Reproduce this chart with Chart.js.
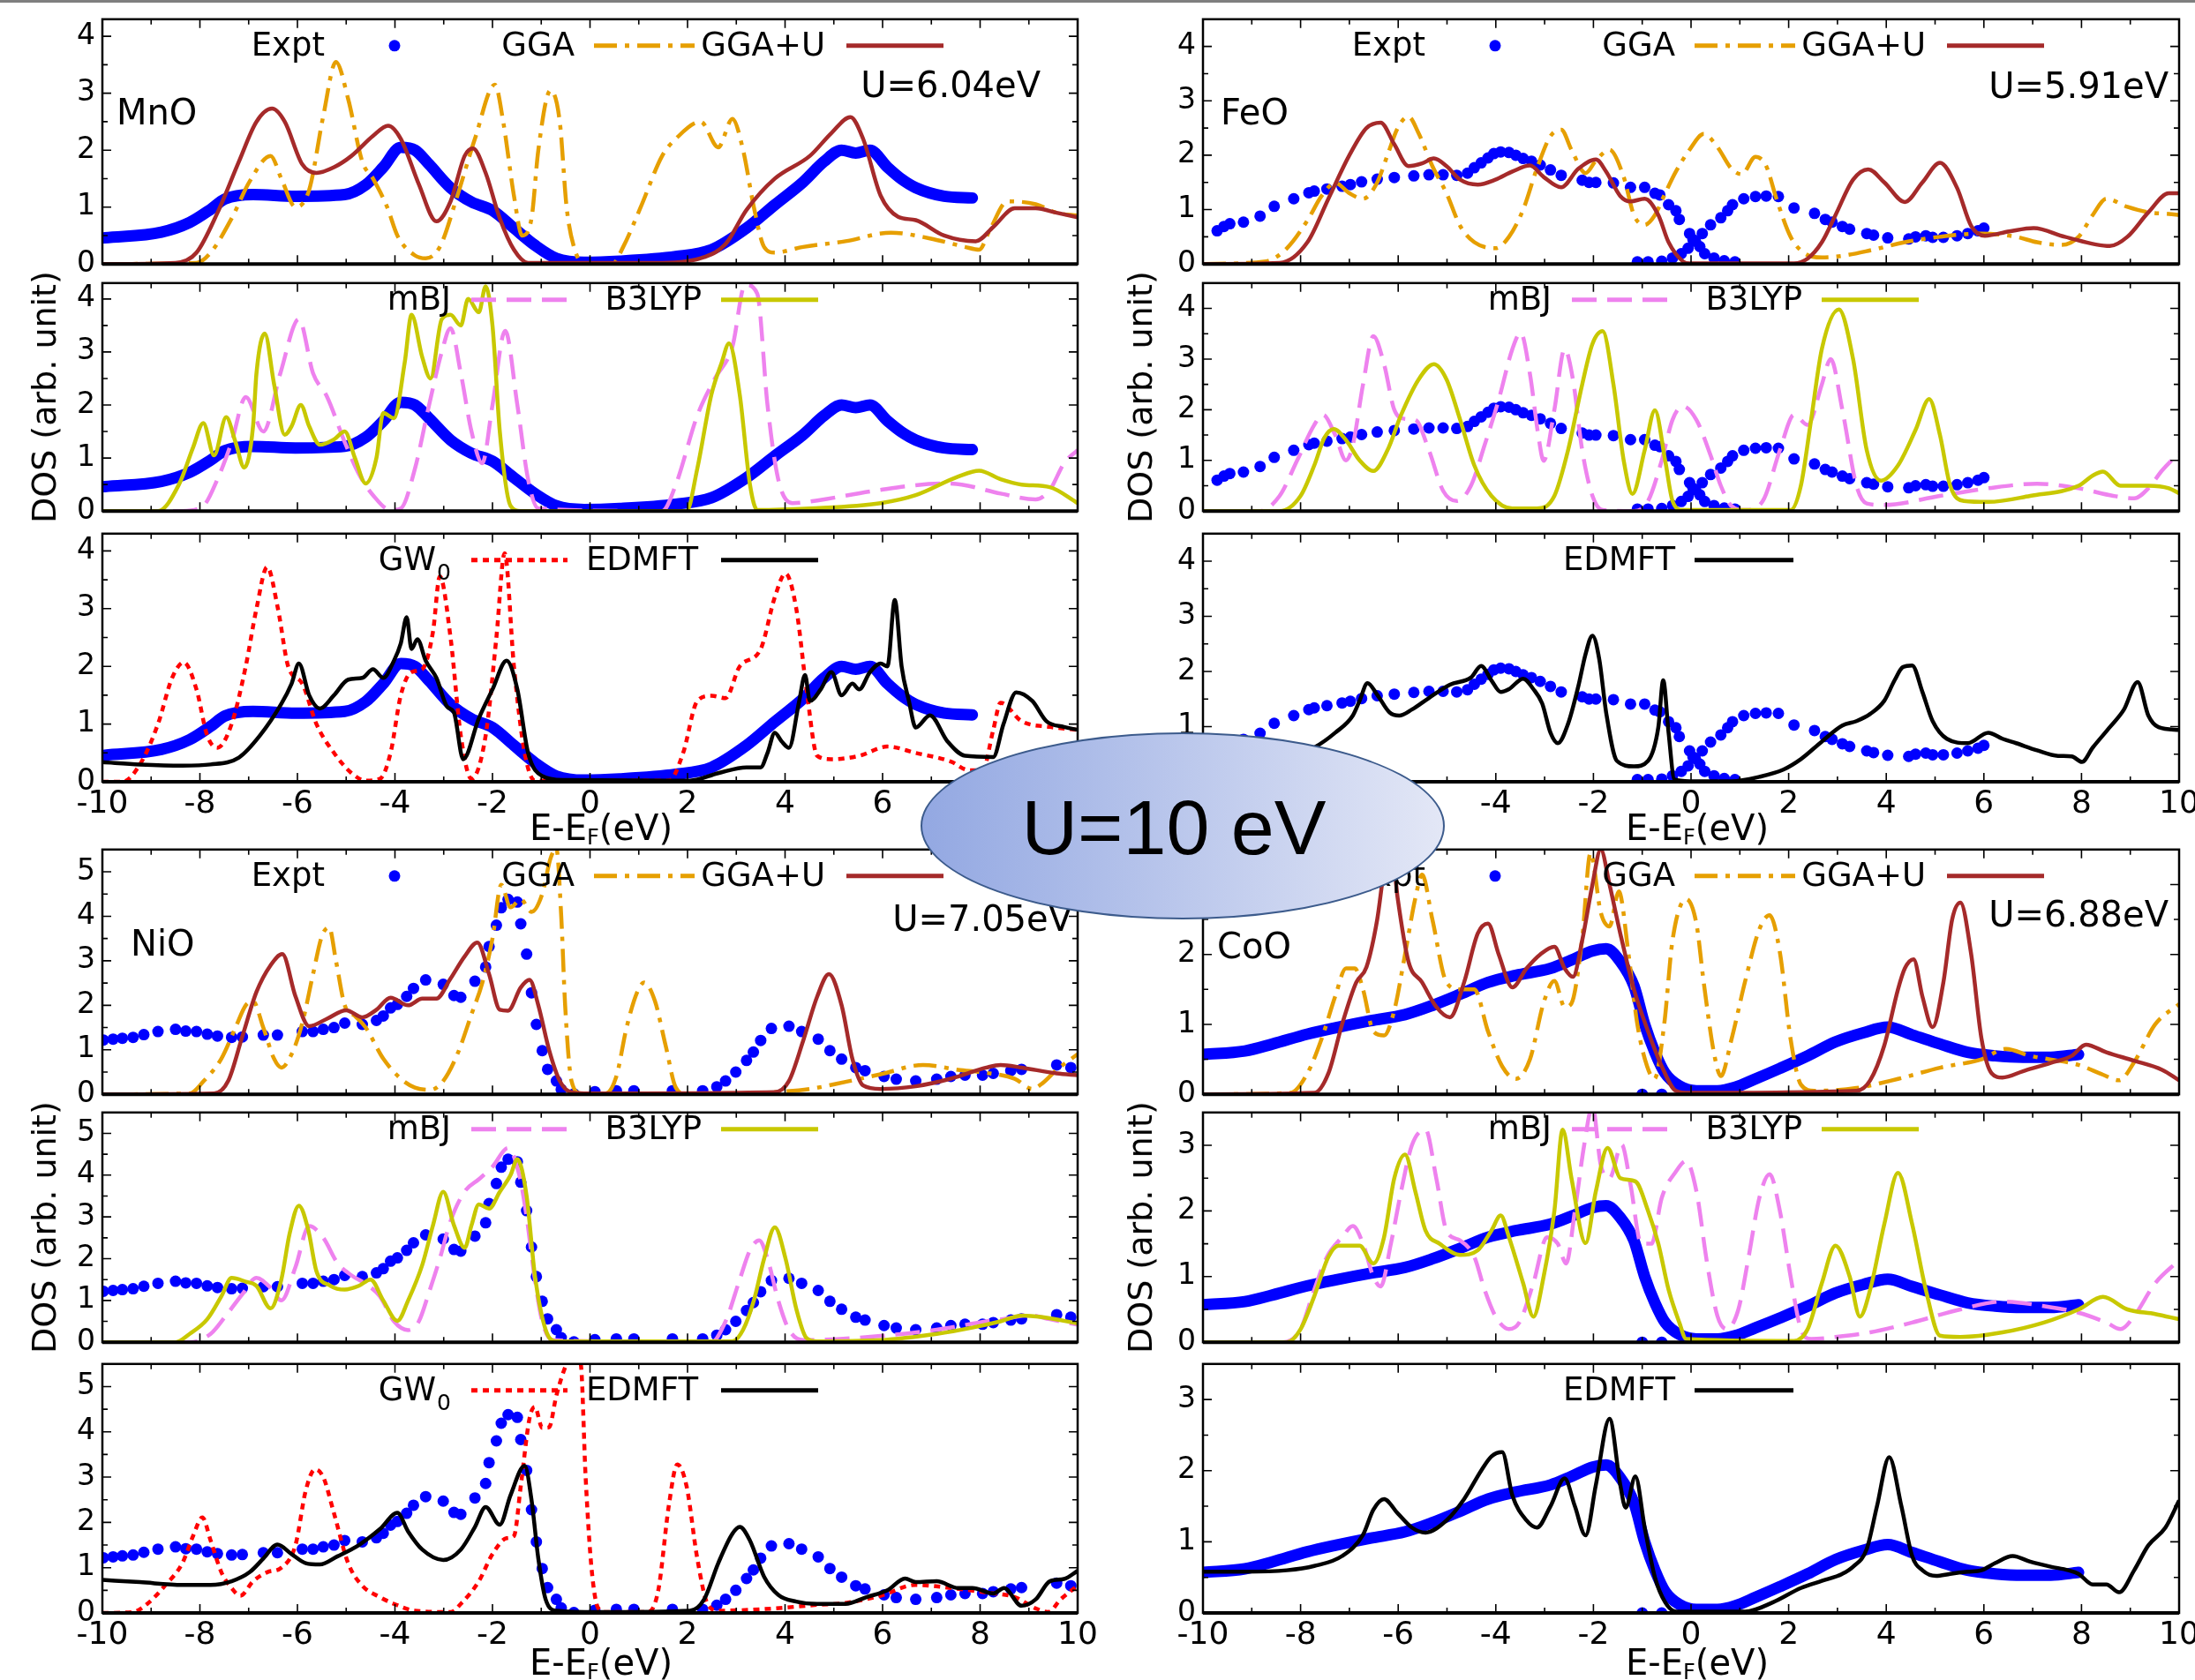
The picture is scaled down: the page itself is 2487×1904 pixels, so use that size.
<!DOCTYPE html>
<html>
<head>
<meta charset="utf-8">
<script src="https://cdn.jsdelivr.net/npm/chart.js@4.4.1/dist/chart.umd.min.js"></script>
<style>
body { margin: 0; background: #fff; }
#page { position: relative; width: 2487px; height: 1904px; overflow: hidden; background: #fff; font-family: "DejaVu Sans", sans-serif; }
#topbar { position: absolute; left: 0; top: 0; width: 2487px; height: 3px; background: #7f7f7f; z-index: 3; }
canvas { position: absolute; }
.yt { position: absolute; transform: translate(-50%, -50%) rotate(-90deg); font: 38px "DejaVu Sans", sans-serif; white-space: nowrap; z-index: 2; }
.xt { position: absolute; transform: translate(-50%, -50%); font: 40px "DejaVu Sans", sans-serif; white-space: nowrap; z-index: 2; }
.xt sub { font-size: 60%; vertical-align: -0.2em; line-height: 0; }
#ellipse { position: absolute; left: 1043px; top: 830px; width: 594px; height: 212px; box-sizing: border-box;
  border-radius: 50%; border: 2.5px solid #3c5b8c; background: linear-gradient(to right, #93a8e2, #e3e7f6); z-index: 5; }
#ellipse span { position: absolute; left: 285px; top: 106px; transform: translate(-50%, -50%); font: 88px "Liberation Sans", Arial, sans-serif; white-space: nowrap; }
</style>
</head>
<body>
<div id="page">
  <div id="topbar"></div>
  <div class="yt" style="left:50px;top:450px">DOS (arb. unit)</div>
  <div class="yt" style="left:1292px;top:450px">DOS (arb. unit)</div>
  <div class="yt" style="left:50px;top:1391px">DOS (arb. unit)</div>
  <div class="yt" style="left:1292px;top:1391px">DOS (arb. unit)</div>
  <div class="xt" style="left:681px;top:938px">E-E<sub>F</sub>(eV)</div>
  <div class="xt" style="left:1923px;top:938px">E-E<sub>F</sub>(eV)</div>
  <div class="xt" style="left:681px;top:1884px">E-E<sub>F</sub>(eV)</div>
  <div class="xt" style="left:1923px;top:1884px">E-E<sub>F</sub>(eV)</div>
  <div id="ellipse"><span>U=10 eV</span></div>
</div>
<script>
// ---- axis ticks ----
const xTickValues = [-10, -8, -6, -4, -2, 0, 2, 4, 6, 8, 10];
const yTicks43 = [0, 1, 2, 3, 4];
const yTicks55 = [0, 1, 2, 3, 4, 5];
const yTicks35 = [0, 1, 2, 3];

// ---- MnO ----
const mnoExpt = [[-9.95,0.46],[-8.79,0.56],[-8.21,0.73],[-7.78,0.96],[-7.49,1.14],[-6.91,1.22],[-6.04,1.19],[-5.03,1.22],[-4.6,1.39],[-4.24,1.7],[-3.88,2.05],[-3.59,2.0],[-3.3,1.75],[-2.86,1.34],[-2.43,1.09],[-2.0,0.94],[-1.56,0.63],[-1.13,0.33],[-0.69,0.1],[-0.12,0.03],[0.61,0.05],[1.76,0.13],[2.49,0.25],[3.21,0.63],[3.79,1.04],[4.37,1.44],[4.8,1.8],[5.16,2.0],[5.45,1.95],[5.74,2.0],[6.1,1.7],[6.39,1.49],[6.68,1.34],[7.26,1.19],[7.84,1.16]];
const mnoGGA = [[-10,0],[-8.07,0.02],[-7.78,0.2],[-7.35,0.8],[-6.98,1.45],[-6.55,1.9],[-6.33,1.5],[-6.04,1.0],[-5.76,1.3],[-5.47,2.6],[-5.21,3.55],[-4.96,2.9],[-4.67,1.8],[-4.45,1.5],[-4.16,1.0],[-3.95,0.5],[-3.59,0.15],[-3.37,0.1],[-3.08,0.3],[-2.72,1.2],[-2.36,2.2],[-1.95,3.15],[-1.78,2.5],[-1.56,1.2],[-1.39,0.5],[-1.2,0.8],[-1.06,2.0],[-0.81,3.05],[-0.62,2.5],[-0.48,1.0],[-0.33,0.3],[-0.12,0.0],[0.46,0.0],[0.68,0.3],[1.04,1.0],[1.48,1.9],[1.76,2.2],[2.27,2.5],[2.63,2.05],[2.92,2.55],[3.14,2.0],[3.36,1.0],[3.57,0.3],[3.79,0.2],[4.37,0.3],[5.24,0.4],[6.17,0.55],[6.97,0.45],[7.69,0.3],[7.98,0.25],[8.2,0.6],[8.56,1.1],[9.14,1.05],[9.57,0.9],[10,0.85]];
const mnoGGAU = [[-10,0],[-8.5,0.02],[-8.07,0.2],[-7.64,0.9],[-7.2,1.8],[-6.84,2.5],[-6.52,2.73],[-6.26,2.5],[-5.9,1.75],[-5.61,1.6],[-5.25,1.7],[-4.89,1.9],[-4.45,2.25],[-4.14,2.43],[-3.88,2.2],[-3.51,1.4],[-3.15,0.75],[-2.86,1.1],[-2.57,1.9],[-2.4,2.03],[-2.14,1.6],[-1.85,0.8],[-1.56,0.25],[-1.27,0.02],[1.48,0.02],[2.34,0.12],[2.78,0.35],[3.21,0.95],[3.79,1.5],[4.51,1.9],[4.95,2.3],[5.34,2.58],[5.6,2.2],[5.96,1.2],[6.32,0.83],[6.68,0.77],[7.26,0.5],[7.91,0.4],[8.27,0.65],[8.71,0.98],[9.14,0.98],[9.57,0.9],[10,0.82]];
const mnoMBJ = [[-10,0],[-8.36,0],[-7.93,0.1],[-7.64,0.6],[-7.35,1.3],[-7.06,2.15],[-6.7,1.5],[-6.35,2.6],[-5.97,3.62],[-5.68,2.6],[-5.39,2.15],[-5.03,1.3],[-4.74,0.7],[-4.45,0.3],[-4.09,0.02],[-3.88,0.05],[-3.59,0.8],[-3.3,2.0],[-3.04,3.0],[-2.86,3.45],[-2.65,2.6],[-2.43,1.5],[-2.21,0.9],[-2.0,2.0],[-1.74,3.4],[-1.49,2.0],[-1.27,0.6],[-1.06,0.05],[1.48,0.0],[1.76,0.5],[2.2,1.8],[2.56,2.5],[2.92,3.1],[3.18,4.27],[3.43,4.1],[3.64,2.0],[3.86,0.6],[4.15,0.15],[4.66,0.2],[5.81,0.38],[7.26,0.52],[7.62,0.5],[8.42,0.33],[9.14,0.22],[9.43,0.4],[9.72,0.9],[10,1.15]];
const mnoB3LYP = [[-10,0],[-8.86,0],[-8.43,0.5],[-8.14,1.2],[-7.93,1.66],[-7.71,1.05],[-7.46,1.77],[-7.27,1.3],[-7.09,0.82],[-6.91,1.6],[-6.84,2.6],[-6.67,3.35],[-6.48,2.4],[-6.26,1.44],[-6.12,1.6],[-5.93,2.0],[-5.76,1.6],[-5.54,1.25],[-5.25,1.35],[-5.03,1.5],[-4.82,1.0],[-4.6,0.52],[-4.38,1.0],[-4.24,1.85],[-4.02,1.75],[-3.8,2.8],[-3.66,3.7],[-3.44,2.9],[-3.27,2.5],[-3.04,3.62],[-2.86,3.7],[-2.65,3.5],[-2.5,4.0],[-2.28,3.75],[-2.14,4.24],[-2.0,3.5],[-1.85,1.5],[-1.63,0.1],[-1.42,0],[1.98,0],[2.2,0.8],[2.49,2.2],[2.7,2.8],[2.85,3.16],[3.07,2.2],[3.28,0.5],[3.43,0.02],[4.51,0.05],[5.96,0.15],[6.68,0.3],[7.55,0.65],[7.98,0.76],[8.42,0.6],[8.85,0.5],[9.43,0.45],[10,0.15]];
const mnoGW0 = [[-10,0],[-9.59,0],[-9.23,0.3],[-8.86,1.0],[-8.57,1.8],[-8.33,2.07],[-8.07,1.6],[-7.85,0.8],[-7.64,0.59],[-7.35,1.0],[-7.06,2.0],[-6.84,3.0],[-6.62,3.72],[-6.4,3.0],[-6.19,2.0],[-5.9,1.7],[-5.61,1.0],[-5.25,0.5],[-4.89,0.15],[-4.6,0.02],[-4.31,0.05],[-4.09,0.5],[-3.88,1.5],[-3.66,1.9],[-3.44,1.95],[-3.22,2.6],[-3.08,3.56],[-2.86,2.5],[-2.65,0.8],[-2.43,0.05],[-2.14,0.8],[-1.92,2.5],[-1.75,3.96],[-1.56,2.0],[-1.34,0.5],[-1.13,0.02],[1.62,0.02],[1.91,0.5],[2.2,1.4],[2.49,1.49],[2.78,1.45],[3.07,2.0],[3.5,2.3],[3.79,3.2],[4.01,3.61],[4.23,3.0],[4.44,1.6],[4.66,0.45],[4.95,0.39],[5.52,0.45],[6.1,0.61],[6.68,0.5],[7.4,0.35],[7.77,0.2],[8.05,0.2],[8.27,0.9],[8.42,1.37],[8.85,1.05],[9.43,0.95],[10,0.9]];
const mnoEDMFT = [[-10,0.34],[-9.23,0.3],[-8.36,0.28],[-7.78,0.3],[-7.2,0.42],[-6.77,0.8],[-6.33,1.35],[-6.12,1.7],[-5.97,2.05],[-5.76,1.5],[-5.54,1.27],[-5.25,1.5],[-4.96,1.77],[-4.67,1.8],[-4.45,1.95],[-4.24,1.8],[-4.02,2.1],[-3.88,2.4],[-3.76,2.85],[-3.66,2.3],[-3.54,2.47],[-3.37,2.1],[-3.15,1.8],[-2.93,1.3],[-2.79,1.2],[-2.6,0.39],[-2.28,1.1],[-2.0,1.6],[-1.71,2.1],[-1.49,1.6],[-1.27,0.5],[-0.98,0.1],[-0.55,0.03],[2.05,0.02],[2.63,0.15],[3.21,0.25],[3.5,0.25],[3.64,0.5],[3.79,0.85],[3.93,0.7],[4.08,0.59],[4.29,1.4],[4.41,1.85],[4.51,1.4],[4.73,1.6],[4.95,1.9],[5.16,1.5],[5.38,1.7],[5.52,1.6],[5.74,1.9],[5.96,2.05],[6.1,2.0],[6.25,3.15],[6.39,2.0],[6.54,1.4],[6.68,0.94],[6.97,1.15],[7.33,0.7],[7.69,0.45],[8.27,0.43],[8.48,1.0],[8.74,1.55],[9.07,1.4],[9.36,1.05],[9.72,0.95],[10,0.9]];

// ---- FeO ----
const feoExptVB = [[-9.71,0.61],[-9.57,0.69],[-9.45,0.74],[-9.17,0.77],[-8.83,0.88],[-8.54,1.06],[-8.14,1.2],[-7.83,1.31],[-7.72,1.34],[-7.46,1.38],[-7.15,1.43],[-6.98,1.46],[-6.75,1.51],[-6.43,1.56],[-6.08,1.59],[-5.68,1.62],[-5.37,1.64],[-5.08,1.64],[-4.8,1.63],[-4.58,1.67],[-4.44,1.77],[-4.3,1.86],[-4.16,1.95],[-4.04,2.03],[-3.9,2.06],[-3.73,2.05],[-3.59,2.0],[-3.44,1.94],[-3.27,1.89],[-3.09,1.82],[-2.88,1.73],[-2.66,1.63],[-2.23,1.54],[-2.09,1.5],[-1.95,1.5],[-1.59,1.49],[-1.24,1.41],[-0.95,1.41],[-0.74,1.3],[-0.64,1.27],[-0.46,1.09],[-0.31,0.98],[-0.24,0.82],[-0.03,0.56],[0.04,0.45],[0.18,0.32],[0.28,0.19],[0.47,0.11],[0.68,0.06],[0.9,0.04]];
const feoExptCB = [[-1.1,0.04],[-0.88,0.04],[-0.6,0.05],[-0.38,0.11],[-0.2,0.19],[-0.06,0.29],[0.09,0.42],[0.23,0.56],[0.4,0.72],[0.61,0.85],[0.75,0.98],[0.85,1.09],[1.08,1.2],[1.32,1.24],[1.54,1.25],[1.79,1.24],[2.11,1.03],[2.53,0.93],[2.75,0.82],[2.89,0.77],[3.1,0.69],[3.25,0.64],[3.6,0.56],[3.74,0.53],[4.03,0.48],[4.46,0.46],[4.6,0.5],[4.81,0.52],[4.95,0.49],[5.17,0.49],[5.45,0.52],[5.67,0.56],[5.88,0.61],[6.0,0.66]];
const feoGGA = [[-10,0],[-8.71,0.05],[-8.28,0.29],[-7.86,0.8],[-7.57,1.25],[-7.29,1.49],[-7.0,1.3],[-6.72,1.2],[-6.43,1.5],[-6.22,2.0],[-6.01,2.5],[-5.79,2.71],[-5.58,2.4],[-5.3,1.8],[-5.01,1.3],[-4.73,0.7],[-4.44,0.4],[-4.01,0.29],[-3.73,0.5],[-3.44,1.0],[-3.16,1.75],[-2.88,2.35],[-2.66,2.47],[-2.45,2.1],[-2.16,1.67],[-1.95,1.9],[-1.67,2.1],[-1.38,1.6],[-1.17,0.9],[-0.95,0.72],[-0.74,0.9],[-0.53,1.3],[-0.31,1.7],[-0.03,2.1],[0.26,2.39],[0.54,2.15],[0.83,1.75],[1.04,1.65],[1.32,1.97],[1.54,1.8],[1.75,1.2],[2.04,0.5],[2.32,0.2],[2.68,0.12],[3.1,0.15],[3.67,0.25],[4.38,0.4],[5.1,0.5],[5.95,0.56],[6.66,0.5],[7.09,0.4],[7.59,0.35],[7.94,0.5],[8.23,0.9],[8.51,1.2],[8.94,1.05],[9.37,0.95],[9.79,0.92],[10,0.9]];
const feoGGAU = [[-10,0],[-8.43,0.02],[-7.86,0.4],[-7.43,1.2],[-7.0,2.0],[-6.65,2.5],[-6.36,2.6],[-6.08,2.2],[-5.79,1.8],[-5.51,1.85],[-5.27,1.94],[-5.01,1.8],[-4.73,1.55],[-4.37,1.46],[-4.01,1.55],[-3.66,1.7],[-3.3,1.81],[-3.02,1.6],[-2.66,1.41],[-2.31,1.75],[-1.95,1.92],[-1.74,1.7],[-1.45,1.25],[-1.24,1.15],[-0.95,1.2],[-0.67,0.9],[-0.46,0.4],[-0.17,0.05],[-0.03,0.01],[2.11,0.01],[2.39,0.1],[2.68,0.4],[2.96,0.9],[3.32,1.55],[3.63,1.74],[3.96,1.5],[4.38,1.14],[4.74,1.5],[5.1,1.86],[5.45,1.4],[5.74,0.7],[6.02,0.52],[6.52,0.6],[7.02,0.66],[7.66,0.5],[8.58,0.33],[8.94,0.5],[9.37,0.95],[9.79,1.3],[10,1.3]];
const feoMBJ = [[-10,0],[-8.85,0],[-8.43,0.3],[-8.07,1.0],[-7.72,1.7],[-7.54,1.9],[-7.29,1.5],[-7.07,1.0],[-6.93,1.3],[-6.72,2.5],[-6.51,3.45],[-6.29,2.9],[-6.08,2.0],[-5.86,1.82],[-5.65,1.8],[-5.37,1.2],[-5.08,0.4],[-4.8,0.2],[-4.51,0.5],[-4.23,1.3],[-3.94,2.2],[-3.66,3.2],[-3.49,3.52],[-3.3,2.7],[-3.13,1.5],[-3.02,0.99],[-2.8,2.0],[-2.59,3.2],[-2.42,2.6],[-2.23,1.2],[-2.02,0.3],[-1.81,0.02],[-1.17,0],[-0.88,0.2],[-0.6,1.0],[-0.38,1.8],[-0.17,2.07],[0.11,1.8],[0.4,1.1],[0.61,0.5],[0.83,0.1],[1.11,0.02],[1.47,0.2],[1.82,1.2],[2.11,1.9],[2.39,1.7],[2.68,2.5],[2.86,3.0],[3.1,2.0],[3.39,0.5],[3.6,0.15],[3.96,0.12],[5.1,0.3],[6.09,0.45],[7.09,0.54],[7.94,0.45],[8.65,0.3],[9.08,0.25],[9.37,0.45],[9.65,0.8],[10,1.15]];
const feoB3LYP = [[-10,0],[-8.43,0],[-8.0,0.3],[-7.72,0.9],[-7.51,1.45],[-7.32,1.62],[-7.07,1.4],[-6.79,1.0],[-6.51,0.79],[-6.22,1.2],[-5.94,1.9],[-5.58,2.6],[-5.27,2.9],[-5.01,2.6],[-4.73,1.8],[-4.44,0.9],[-4.09,0.3],[-3.66,0.05],[-3.16,0.05],[-2.8,0.3],[-2.52,1.2],[-2.23,2.5],[-2.02,3.3],[-1.81,3.55],[-1.59,2.5],[-1.38,1.0],[-1.2,0.34],[-0.95,1.2],[-0.74,1.99],[-0.53,1.0],[-0.38,0.2],[-0.17,0.02],[2.04,0.02],[2.25,0.5],[2.46,1.8],[2.68,3.2],[3.03,3.98],[3.32,3.0],[3.6,1.2],[3.89,0.6],[4.24,0.9],[4.6,1.6],[4.88,2.21],[5.1,1.5],[5.31,0.5],[5.59,0.2],[6.09,0.18],[6.95,0.3],[7.94,0.5],[8.23,0.7],[8.44,0.78],[8.8,0.5],[9.37,0.5],[9.79,0.45],[10,0.35]];
const feoEDMFT = [[-10,0.3],[-9,0.32],[-8.4,0.42],[-7.93,0.54],[-7.72,0.62],[-7.29,0.89],[-6.93,1.2],[-6.79,1.47],[-6.63,1.79],[-6.43,1.58],[-6.18,1.26],[-5.98,1.2],[-5.72,1.31],[-5.37,1.52],[-4.94,1.76],[-4.51,1.89],[-4.3,2.1],[-4.09,1.84],[-3.9,1.63],[-3.73,1.68],[-3.44,1.87],[-3.23,1.68],[-3.05,1.42],[-2.88,0.89],[-2.73,0.7],[-2.52,1.05],[-2.31,1.73],[-2.16,2.32],[-2.02,2.65],[-1.88,2.22],[-1.74,1.26],[-1.52,0.38],[-1.17,0.28],[-0.88,0.38],[-0.67,0.99],[-0.57,1.84],[-0.46,0.89],[-0.34,0.04],[-0.03,0.01],[0.83,0.01],[1.4,0.09],[1.89,0.22],[2.25,0.41],[2.68,0.73],[3.1,1.02],[3.39,1.1],[3.67,1.23],[3.96,1.47],[4.17,1.84],[4.34,2.08],[4.53,2.11],[4.74,1.63],[4.95,1.1],[5.24,0.78],[5.67,0.7],[6.09,0.89],[6.38,0.78],[6.66,0.7],[7.09,0.57],[7.52,0.47],[7.8,0.46],[8.01,0.36],[8.23,0.62],[8.58,0.99],[8.87,1.31],[9.15,1.81],[9.37,1.2],[9.58,0.99],[10,0.94]];

// ---- NiO ----
const nioExpt = [[-9.98,1.22],[-9.78,1.24],[-9.59,1.26],[-9.37,1.28],[-9.15,1.34],[-8.86,1.41],[-8.5,1.46],[-8.29,1.42],[-8.07,1.41],[-7.85,1.35],[-7.64,1.31],[-7.35,1.28],[-7.13,1.29],[-6.7,1.33],[-6.41,1.33],[-5.9,1.41],[-5.68,1.41],[-5.47,1.46],[-5.25,1.5],[-5.03,1.6],[-4.67,1.57],[-4.38,1.66],[-4.24,1.76],[-4.09,1.94],[-3.95,2.02],[-3.76,2.2],[-3.62,2.38],[-3.37,2.57],[-3.01,2.47],[-2.79,2.22],[-2.65,2.18],[-2.36,2.54],[-2.14,2.86],[-2.07,3.32],[-1.92,3.8],[-1.82,4.19],[-1.68,4.38],[-1.49,4.32],[-1.42,3.83],[-1.3,3.15],[-1.2,2.28],[-1.1,1.57],[-0.98,0.98],[-0.87,0.56],[-0.69,0.3],[-0.59,0.11],[-0.33,0.01],[0.1,0.06],[0.54,0.08],[0.9,0.08],[1.69,0.08],[2.31,0.08],[2.6,0.17],[2.78,0.3],[2.99,0.5],[3.21,0.76],[3.35,0.95],[3.5,1.21],[3.72,1.48],[4.08,1.53],[4.34,1.41],[4.68,1.24],[4.92,0.98],[5.16,0.79],[5.45,0.6],[5.64,0.53],[6.03,0.4],[6.28,0.34],[6.68,0.3],[7.11,0.34],[7.4,0.4],[7.69,0.43],[8.05,0.43],[8.27,0.47],[8.63,0.53],[8.85,0.56],[9.57,0.66],[9.86,0.6]];
const nioGGA = [[-10,0],[-8.21,0.02],[-7.92,0.3],[-7.56,0.8],[-7.27,1.5],[-7.06,2.0],[-6.91,2.09],[-6.7,1.5],[-6.48,0.8],[-6.33,0.6],[-6.12,0.9],[-5.9,1.6],[-5.68,2.7],[-5.5,3.55],[-5.35,3.75],[-5.21,3.0],[-5.03,2.0],[-4.82,1.76],[-4.6,1.5],[-4.24,0.8],[-3.88,0.35],[-3.59,0.15],[-3.27,0.1],[-3.01,0.3],[-2.72,0.9],[-2.43,1.8],[-2.21,2.5],[-2.0,3.5],[-1.82,4.71],[-1.63,4.2],[-1.42,4.38],[-1.2,4.1],[-0.98,4.5],[-0.81,5.3],[-0.69,5.52],[-0.59,4.0],[-0.51,2.0],[-0.38,0.3],[-0.19,0.02],[0.32,0.02],[0.54,0.4],[0.75,1.5],[0.97,2.3],[1.11,2.51],[1.33,2.1],[1.55,1.1],[1.76,0.15],[1.98,0],[3.79,0.05],[4.51,0.12],[5.24,0.28],[5.96,0.45],[6.83,0.66],[7.55,0.55],[8.13,0.48],[8.71,0.35],[9.07,0.12],[9.28,0.25],[9.57,0.55],[10,0.9]];
const nioGGAU = [[-10,0],[-7.71,0.02],[-7.42,0.3],[-7.13,1.3],[-6.84,2.3],[-6.55,2.9],[-6.31,3.15],[-6.04,2.2],[-5.76,1.53],[-5.39,1.7],[-5.0,1.89],[-4.67,1.73],[-4.38,1.9],[-4.09,2.17],[-3.73,2.0],[-3.44,2.15],[-3.15,2.15],[-2.86,2.6],[-2.57,3.1],[-2.31,3.41],[-2.07,2.7],[-1.85,1.9],[-1.68,1.88],[-1.42,2.4],[-1.24,2.57],[-1.06,2.0],[-0.84,1.0],[-0.62,0.3],[-0.4,0.05],[-0.12,0.02],[3.79,0.05],[4.08,0.3],[4.37,1.2],[4.66,2.2],[4.9,2.7],[5.16,2.0],[5.38,0.8],[5.6,0.2],[5.96,0.12],[6.68,0.18],[7.4,0.35],[8.13,0.6],[8.42,0.66],[8.85,0.6],[9.57,0.47],[10,0.43]];
const nioMBJ = [[-10,0],[-8.21,0],[-7.78,0.2],[-7.49,0.6],[-7.13,1.15],[-6.84,1.54],[-6.55,1.3],[-6.33,1.0],[-6.04,1.8],[-5.76,2.78],[-5.47,2.5],[-5.18,1.9],[-4.89,1.6],[-4.6,1.4],[-4.31,1.1],[-4.02,0.5],[-3.73,0.29],[-3.51,0.5],[-3.3,1.2],[-3.08,2.0],[-2.86,2.9],[-2.57,3.61],[-2.28,3.9],[-2.0,4.2],[-1.68,4.65],[-1.45,4.0],[-1.3,3.0],[-1.13,1.5],[-0.98,0.5],[-0.77,0.05],[2.49,0],[2.78,0.5],[3.07,1.5],[3.28,2.2],[3.47,2.44],[3.64,2.0],[3.86,1.0],[4.08,0.3],[4.37,0.05],[5.96,0.15],[7.11,0.3],[8.13,0.5],[8.56,0.57],[9.0,0.65],[9.43,0.55],[10,0.42]];
const nioB3LYP = [[-10,0],[-8.5,0],[-8.21,0.2],[-7.85,0.55],[-7.56,1.1],[-7.35,1.54],[-7.06,1.45],[-6.84,1.35],[-6.55,0.81],[-6.33,1.5],[-6.16,2.6],[-5.97,3.27],[-5.78,2.7],[-5.61,1.7],[-5.32,1.35],[-5.03,1.26],[-4.74,1.35],[-4.5,1.5],[-4.24,1.0],[-3.95,0.51],[-3.73,1.0],[-3.44,1.85],[-3.22,2.8],[-3.01,3.6],[-2.79,2.8],[-2.57,2.26],[-2.43,2.8],[-2.28,3.3],[-2.07,3.2],[-1.85,3.6],[-1.63,4.0],[-1.49,4.38],[-1.3,3.5],[-1.13,1.6],[-0.91,0.3],[-0.69,0.02],[2.92,0.02],[3.14,0.3],[3.36,1.0],[3.57,2.0],[3.79,2.75],[4.01,2.0],[4.23,0.8],[4.44,0.1],[4.66,0.02],[5.96,0.05],[7.11,0.2],[7.84,0.35],[8.42,0.5],[8.85,0.64],[9.28,0.6],[10,0.45]];
const nioGW0 = [[-10,0],[-9.37,0.02],[-9.08,0.2],[-8.72,0.6],[-8.36,1.1],[-8.14,1.7],[-7.95,2.11],[-7.78,1.6],[-7.56,0.9],[-7.35,0.55],[-7.17,0.38],[-6.91,0.7],[-6.62,0.9],[-6.33,1.0],[-6.04,1.5],[-5.83,2.7],[-5.64,3.17],[-5.47,3.0],[-5.25,2.2],[-4.96,1.1],[-4.67,0.6],[-4.31,0.35],[-4.02,0.2],[-3.59,0.05],[-2.86,0.02],[-2.65,0.2],[-2.28,0.7],[-2.0,1.3],[-1.71,1.65],[-1.56,1.7],[-1.42,2.8],[-1.24,4.3],[-1.13,4.55],[-0.98,4.09],[-0.84,4.1],[-0.69,4.8],[-0.48,5.5],[-0.33,5.7],[-0.19,5.5],[-0.09,3.0],[0.03,1.0],[0.17,0.1],[0.32,0.02],[1.19,0.02],[1.4,0.5],[1.62,2.4],[1.79,3.28],[1.98,2.8],[2.2,1.2],[2.41,0.2],[2.63,0.05],[3.79,0.1],[4.66,0.18],[5.24,0.22],[5.96,0.38],[6.68,0.62],[7.4,0.55],[8.13,0.45],[8.71,0.35],[9.14,0.1],[9.4,0.02],[9.65,0.3],[10,0.6]];
const nioEDMFT = [[-10,0.73],[-9.23,0.68],[-8.36,0.62],[-7.78,0.62],[-7.35,0.7],[-6.98,0.9],[-6.7,1.2],[-6.41,1.51],[-6.12,1.3],[-5.83,1.1],[-5.54,1.07],[-5.18,1.25],[-4.74,1.5],[-4.31,1.85],[-3.95,2.21],[-3.73,1.8],[-3.44,1.4],[-3.01,1.17],[-2.65,1.4],[-2.36,1.9],[-2.14,2.34],[-1.85,1.95],[-1.63,2.6],[-1.34,3.25],[-1.2,2.5],[-1.06,1.2],[-0.91,0.3],[-0.69,0.05],[0.17,0.02],[2.05,0.05],[2.34,0.3],[2.63,1.1],[2.92,1.75],[3.07,1.9],[3.28,1.6],[3.57,0.8],[3.86,0.4],[4.23,0.25],[4.66,0.2],[4.95,0.2],[5.24,0.2],[5.67,0.35],[6.1,0.5],[6.46,0.76],[6.68,0.68],[7.11,0.7],[7.55,0.55],[7.84,0.55],[8.27,0.43],[8.49,0.55],[8.85,0.16],[9.14,0.3],[9.43,0.7],[9.72,0.75],[10,0.93]];

// ---- CoO ----
const cooExpt = [[-10,0.57],[-9.14,0.62],[-8.57,0.72],[-7.86,0.86],[-7.29,0.95],[-6.58,1.05],[-5.86,1.14],[-5.3,1.27],[-4.73,1.43],[-4.16,1.6],[-3.59,1.7],[-2.88,1.8],[-2.45,1.92],[-2.02,2.05],[-1.74,2.08],[-1.45,1.9],[-1.17,1.55],[-0.95,1.0],[-0.74,0.6],[-0.53,0.3],[-0.24,0.12],[0.11,0.05],[0.54,0.05],[0.9,0.1],[1.32,0.22],[1.82,0.37],[2.39,0.55],[2.96,0.75],[3.53,0.88],[4.03,0.96],[4.53,0.85],[5.1,0.72],[5.67,0.6],[6.23,0.55],[6.8,0.53],[7.37,0.53],[7.94,0.57]];
const cooExptGap = [[-1.0,0],[-0.6,0]];
const cooGGA = [[-10,0],[-8.21,0.02],[-7.86,0.3],[-7.57,0.79],[-7.29,1.4],[-7.07,1.8],[-6.89,1.8],[-6.72,1.5],[-6.51,0.9],[-6.29,0.84],[-6.08,1.2],[-5.86,2.0],[-5.65,2.8],[-5.51,3.14],[-5.3,2.5],[-5.01,1.6],[-4.73,1.5],[-4.44,1.5],[-4.16,0.9],[-3.87,0.4],[-3.59,0.22],[-3.3,0.5],[-3.02,1.31],[-2.8,1.62],[-2.59,1.25],[-2.45,1.3],[-2.23,2.23],[-2.06,3.45],[-1.85,2.6],[-1.67,2.4],[-1.48,2.9],[-1.28,2.0],[-1.1,1.0],[-0.9,0.4],[-0.75,0.22],[-0.55,1.0],[-0.38,2.2],[-0.1,2.79],[0.11,2.44],[0.26,1.6],[0.47,0.59],[0.61,0.26],[0.83,0.79],[1.11,1.62],[1.4,2.36],[1.61,2.56],[1.82,2.03],[2.04,0.79],[2.25,0.14],[2.53,0.05],[3.39,0.09],[4.24,0.22],[5.1,0.38],[5.95,0.5],[6.45,0.65],[6.95,0.55],[7.94,0.42],[8.44,0.28],[8.77,0.2],[9.08,0.46],[9.51,1.0],[10,1.29]];
const cooGGAU = [[-10,0],[-7.72,0.02],[-7.43,0.3],[-7.15,1.0],[-6.86,1.6],[-6.65,1.82],[-6.43,2.5],[-6.29,3.2],[-6.15,3.6],[-6.01,2.8],[-5.79,1.9],[-5.51,1.6],[-5.22,1.25],[-4.94,1.1],[-4.65,1.6],[-4.37,2.3],[-4.16,2.44],[-3.94,2.0],[-3.66,1.53],[-3.37,1.8],[-3.09,2.0],[-2.8,2.11],[-2.59,1.8],[-2.42,1.68],[-2.23,2.2],[-2.02,3.0],[-1.85,3.5],[-1.67,3.0],[-1.45,2.3],[-1.17,1.5],[-0.88,0.9],[-0.6,0.4],[-0.31,0.05],[-0.03,0.02],[3.39,0.05],[3.67,0.2],[3.96,0.7],[4.24,1.5],[4.38,1.8],[4.56,1.93],[4.74,1.4],[4.95,0.96],[5.17,1.6],[5.35,2.5],[5.52,2.74],[5.74,2.0],[5.95,0.8],[6.16,0.3],[6.38,0.24],[6.8,0.33],[7.37,0.45],[7.8,0.55],[8.09,0.71],[8.51,0.6],[9.08,0.48],[9.65,0.35],[10,0.2]];
const cooMBJ = [[-10,0],[-8.36,0],[-8.0,0.2],[-7.72,0.8],[-7.46,1.3],[-7.15,1.6],[-6.93,1.77],[-6.72,1.5],[-6.51,1.0],[-6.36,0.85],[-6.15,1.5],[-5.94,2.3],[-5.72,3.0],[-5.44,3.24],[-5.22,2.5],[-5.01,1.7],[-4.73,1.55],[-4.44,1.3],[-4.23,0.8],[-4.01,0.4],[-3.73,0.2],[-3.52,0.3],[-3.23,0.9],[-2.95,1.6],[-2.73,1.5],[-2.56,1.2],[-2.38,2.0],[-2.19,3.0],[-2.02,3.6],[-1.85,2.7],[-1.67,2.5],[-1.42,3.01],[-1.24,2.4],[-1.02,1.5],[-0.81,1.5],[-0.6,2.2],[-0.31,2.6],[-0.1,2.76],[0.11,2.3],[0.33,1.2],[0.54,0.4],[0.73,0.2],[0.97,0.5],[1.18,1.3],[1.4,2.2],[1.61,2.56],[1.82,2.0],[2.04,1.0],[2.25,0.2],[2.46,0.05],[2.96,0.08],[3.67,0.15],[4.53,0.3],[5.52,0.5],[6.38,0.62],[7.23,0.55],[7.94,0.45],[8.51,0.3],[8.8,0.2],[9.08,0.4],[9.51,0.9],[10,1.25]];
const cooB3LYP = [[-10,0],[-8.28,0],[-8.0,0.2],[-7.72,0.7],[-7.43,1.3],[-7.22,1.47],[-6.79,1.47],[-6.51,1.2],[-6.29,1.6],[-6.08,2.5],[-5.86,2.86],[-5.65,2.3],[-5.44,1.7],[-5.15,1.5],[-4.73,1.33],[-4.37,1.4],[-4.09,1.7],[-3.9,1.93],[-3.73,1.6],[-3.44,0.9],[-3.23,0.39],[-3.02,1.0],[-2.8,2.0],[-2.63,3.24],[-2.45,2.5],[-2.16,1.51],[-1.95,2.3],[-1.71,2.96],[-1.45,2.5],[-1.14,2.45],[-0.88,2.0],[-0.67,1.5],[-0.46,0.8],[-0.24,0.3],[-0.1,0.05],[2.11,0.02],[2.39,0.2],[2.68,0.9],[2.96,1.47],[3.25,1.0],[3.46,0.39],[3.67,0.8],[3.96,1.8],[4.24,2.58],[4.53,1.8],[4.81,0.8],[5.1,0.1],[5.52,0.08],[6.38,0.15],[7.23,0.3],[7.94,0.5],[8.44,0.69],[8.94,0.5],[9.51,0.43],[10,0.35]];
const cooEDMFT = [[-10,0.58],[-9.14,0.58],[-8.28,0.6],[-7.72,0.66],[-7.15,0.8],[-6.72,1.1],[-6.51,1.45],[-6.29,1.6],[-6.01,1.4],[-5.72,1.2],[-5.44,1.13],[-5.01,1.3],[-4.65,1.6],[-4.3,2.0],[-4.09,2.2],[-3.87,2.26],[-3.66,1.65],[-3.37,1.3],[-3.16,1.2],[-2.88,1.5],[-2.59,1.89],[-2.38,1.5],[-2.16,1.09],[-1.95,1.8],[-1.67,2.73],[-1.45,1.8],[-1.34,1.48],[-1.14,1.92],[-0.95,1.2],[-0.74,0.5],[-0.53,0.15],[-0.31,0.02],[1.11,0.02],[1.68,0.15],[2.25,0.35],[2.68,0.45],[3.1,0.55],[3.32,0.65],[3.6,0.9],[3.81,1.5],[4.06,2.19],[4.31,1.5],[4.53,0.8],[4.74,0.6],[5.02,0.52],[5.31,0.55],[5.67,0.58],[5.95,0.6],[6.23,0.7],[6.59,0.8],[6.95,0.72],[7.37,0.65],[7.73,0.6],[7.94,0.55],[8.23,0.4],[8.51,0.4],[8.77,0.29],[9.08,0.6],[9.37,0.95],[9.72,1.2],[10,1.58]];

// ---- styles ----
const FONT = '"DejaVu Sans", "Liberation Sans", sans-serif';
const BLUE = '#0000ff';
const C_GGA = '#e69f00', C_GGAU = '#a52a2a', C_MBJ = '#ee82ee', C_B3 = '#c8c800', C_GW = '#ff0000', C_ED = '#000000';

function pts(a) { return a.map(([x, y]) => ({ x, y })); }
function curve(label, a, color, dash) {
  return { label, data: pts(a), borderColor: color, backgroundColor: color, borderWidth: 4.5,
    borderDash: dash || [], pointRadius: 0, fill: false, cubicInterpolationMode: 'monotone',
    borderJoinStyle: 'round' };
}
function band(label, a) {
  return { label, data: pts(a), borderColor: BLUE, backgroundColor: BLUE, borderWidth: 13,
    borderCapStyle: 'round', borderJoinStyle: 'round', pointRadius: 0, fill: false,
    cubicInterpolationMode: 'monotone', dotColor: BLUE };
}
function dots(label, a) {
  return { label, data: pts(a), showLine: false, pointRadius: 6.5, pointBorderWidth: 0,
    pointBackgroundColor: BLUE, borderColor: BLUE, backgroundColor: BLUE, dotColor: BLUE };
}

// frame + inward ticks (gnuplot look)
const gpFrame = {
  id: 'gpFrame',
  afterDatasetsDraw(chart) {
    const { ctx, chartArea: a, scales: { x, y } } = chart;
    ctx.save();
    ctx.strokeStyle = '#000';
    ctx.lineWidth = 1.6;
    ctx.beginPath();
    for (let v = -10; v <= 10; v++) {
      const px = x.getPixelForValue(v);
      const len = v % 2 === 0 ? 10 : 6;
      ctx.moveTo(px, a.bottom); ctx.lineTo(px, a.bottom - len);
      ctx.moveTo(px, a.top); ctx.lineTo(px, a.top + len);
    }
    for (let v = 0; v <= y.max + 1e-6; v += 0.5) {
      const py = y.getPixelForValue(v);
      const len = Number.isInteger(v) ? 10 : 6;
      ctx.moveTo(a.left, py); ctx.lineTo(a.left + len, py);
      ctx.moveTo(a.right, py); ctx.lineTo(a.right - len, py);
    }
    ctx.stroke();
    ctx.lineWidth = 2.5;
    ctx.strokeRect(a.left, a.top, a.right - a.left, a.bottom - a.top);
    ctx.lineWidth = 4;
    ctx.beginPath(); ctx.moveTo(a.left, a.bottom); ctx.lineTo(a.right, a.bottom); ctx.stroke();
    ctx.restore();
  }
};

function makeKey(items, dy) {
  return {
    id: 'gpKey',
    afterDraw(chart) {
      const { ctx, chartArea: a } = chart;
      const ty = a.top + dy;
      ctx.save();
      ctx.textBaseline = 'middle';
      ctx.textAlign = 'right';
      for (const it of items) {
        const ds = chart.data.datasets.find(d => d.label === it.ds);
        let right = a.left + it.right;
        ctx.fillStyle = '#000';
        if (it.sub) {
          ctx.font = `25px ${FONT}`;
          ctx.fillText(it.sub, right, ty + 14);
          right -= ctx.measureText(it.sub).width + 1;
        }
        ctx.font = `37px ${FONT}`;
        ctx.fillText(it.label, right, ty);
        if (it.dot !== undefined) {
          ctx.fillStyle = ds.dotColor;
          ctx.beginPath(); ctx.arc(a.left + it.dot, ty - 2, 6.5, 0, 2 * Math.PI); ctx.fill();
        } else {
          ctx.strokeStyle = ds.borderColor;
          ctx.lineWidth = 5;
          ctx.setLineDash(ds.borderDash || []);
          ctx.beginPath(); ctx.moveTo(a.left + it.sx[0], ty - 2); ctx.lineTo(a.left + it.sx[1], ty - 2); ctx.stroke();
          ctx.setLineDash([]);
        }
      }
      ctx.restore();
    }
  };
}

function makeNotes(notes) {
  return {
    id: 'gpNotes',
    afterDraw(chart) {
      const { ctx, chartArea: a } = chart;
      ctx.save();
      ctx.fillStyle = '#000';
      ctx.textBaseline = 'middle';
      ctx.font = `40px ${FONT}`;
      for (const n of notes) {
        ctx.textAlign = n.align;
        const x = n.align === 'left' ? a.left + n.x : a.right + n.x;
        ctx.fillText(n.t, x, a.top + n.y);
      }
      ctx.restore();
    }
  };
}

const page = document.getElementById('page');
const PT = 25, PR = 40, PB = 25, YW = 110, XH = 58;

function panel(box, ymax, yTicks, xlab, datasets, keyItems, keyDy, notes) {
  const { L, T, W, H } = box;
  const cw = YW + W + PR;
  const ch = PT + H + (xlab ? XH + 12 : PB);
  const c = document.createElement('canvas');
  c.width = cw; c.height = ch;
  c.style.left = (L - YW) + 'px'; c.style.top = (T - PT) + 'px';
  c.style.width = cw + 'px'; c.style.height = ch + 'px';
  page.appendChild(c);
  const plugins = [gpFrame, makeKey(keyItems, keyDy)];
  if (notes) plugins.push(makeNotes(notes));
  new Chart(c, {
    type: 'line',
    data: { datasets },
    options: {
      responsive: false, animation: false, devicePixelRatio: 1,
      layout: { padding: { left: 0, top: PT, right: PR, bottom: xlab ? 12 : PB } },
      scales: {
        x: {
          type: 'linear', min: -10, max: 10, display: xlab,
          grid: { display: false, drawTicks: false }, border: { display: false },
          ticks: { padding: 4, color: '#000', font: { family: FONT, size: 36 }, maxRotation: 0, autoSkip: false },
          afterBuildTicks: s => { s.ticks = xTickValues.map(v => ({ value: v })); },
          afterFit: s => { s.height = xlab ? XH : 0; }
        },
        y: {
          type: 'linear', min: 0, max: ymax,
          grid: { display: false, drawTicks: false }, border: { display: false },
          ticks: { padding: 8, color: '#000', font: { family: FONT, size: 33 } },
          afterBuildTicks: s => { s.ticks = yTicks.map(v => ({ value: v })); },
          afterFit: s => { s.width = YW; }
        }
      },
      plugins: { legend: { display: false }, tooltip: { enabled: false } }
    },
    plugins
  });
}

// ---- layout ----
const colL = { L: 116, W: 1105 }, colR = { L: 1363, W: 1106 };
const rowT = [{ T: 19, H: 283 }, { T: 318, H: 264 }, { T: 602, H: 284 },
              { T: 960, H: 283 }, { T: 1258, H: 266 }, { T: 1543, H: 285 }];
const box = (c, r) => ({ L: c.L, W: c.W, T: rowT[r].T, H: rowT[r].H });

const keyTop = [
  { label: 'Expt', right: 252, dot: 331, ds: 'Expt' },
  { label: 'GGA', right: 535, sx: [557, 671], ds: 'GGA' },
  { label: 'GGA+U', right: 819, sx: [843, 953], ds: 'GGA+U' }];
const keyMid = [
  { label: 'mBJ', right: 395, sx: [418, 527], ds: 'mBJ' },
  { label: 'B3LYP', right: 679, sx: [701, 811], ds: 'B3LYP' }];
const keyBotL = [
  { label: 'GW', sub: '0', right: 395, sx: [418, 527], ds: 'GW0' },
  { label: 'EDMFT', right: 675, sx: [701, 811], ds: 'EDMFT' }];
const keyBotR = [{ label: 'EDMFT', right: 535, sx: [557, 669], ds: 'EDMFT' }];

const ggaDash = [26, 9, 5, 9], mbjDash = [28, 12], gwDash = [7, 6];

// MnO
panel(box(colL, 0), 4.3, yTicks43, false,
  [curve('GGA+U', mnoGGAU, C_GGAU), curve('GGA', mnoGGA, C_GGA, ggaDash), band('Expt', mnoExpt)],
  keyTop, 32, [{ t: 'MnO', x: 16, y: 109, align: 'left' }, { t: 'U=6.04eV', x: -42, y: 78, align: 'right' }]);
panel(box(colL, 1), 4.3, yTicks43, false,
  [curve('B3LYP', mnoB3LYP, C_B3), curve('mBJ', mnoMBJ, C_MBJ, mbjDash), band('Expt', mnoExpt)],
  keyMid, 21);
panel(box(colL, 2), 4.3, yTicks43, true,
  [curve('EDMFT', mnoEDMFT, C_ED), curve('GW0', mnoGW0, C_GW, gwDash), band('Expt', mnoExpt)],
  keyBotL, 32);

// FeO
panel(box(colR, 0), 4.5, yTicks43, false,
  [curve('GGA+U', feoGGAU, C_GGAU), curve('GGA', feoGGA, C_GGA, ggaDash), dots('Expt', feoExptVB), dots('ExptCB', feoExptCB)],
  keyTop, 32, [{ t: 'FeO', x: 20, y: 109, align: 'left' }, { t: 'U=5.91eV', x: -12, y: 79, align: 'right' }]);
panel(box(colR, 1), 4.5, yTicks43, false,
  [curve('B3LYP', feoB3LYP, C_B3), curve('mBJ', feoMBJ, C_MBJ, mbjDash), dots('Expt', feoExptVB), dots('ExptCB', feoExptCB)],
  keyMid, 21);
panel(box(colR, 2), 4.5, yTicks43, true,
  [curve('EDMFT', feoEDMFT, C_ED), dots('Expt', feoExptVB), dots('ExptCB', feoExptCB)],
  keyBotR, 32);

// NiO
panel(box(colL, 3), 5.5, yTicks55, false,
  [curve('GGA+U', nioGGAU, C_GGAU), curve('GGA', nioGGA, C_GGA, ggaDash), dots('Expt', nioExpt)],
  keyTop, 32, [{ t: 'NiO', x: 32, y: 110, align: 'left' }, { t: 'U=7.05eV', x: -6, y: 82, align: 'right' }]);
panel(box(colL, 4), 5.5, yTicks55, false,
  [curve('B3LYP', nioB3LYP, C_B3), curve('mBJ', nioMBJ, C_MBJ, mbjDash), dots('Expt', nioExpt)],
  keyMid, 21);
panel(box(colL, 5), 5.5, yTicks55, true,
  [curve('EDMFT', nioEDMFT, C_ED), curve('GW0', nioGW0, C_GW, gwDash), dots('Expt', nioExpt)],
  keyBotL, 32);

// CoO
panel(box(colR, 3), 3.5, yTicks35, false,
  [curve('GGA+U', cooGGAU, C_GGAU), curve('GGA', cooGGA, C_GGA, ggaDash), band('Expt', cooExpt), dots('ExptGap', cooExptGap)],
  keyTop, 32, [{ t: 'CoO', x: 16, y: 113, align: 'left' }, { t: 'U=6.88eV', x: -12, y: 77, align: 'right' }]);
panel(box(colR, 4), 3.5, yTicks35, false,
  [curve('B3LYP', cooB3LYP, C_B3), curve('mBJ', cooMBJ, C_MBJ, mbjDash), band('Expt', cooExpt), dots('ExptGap', cooExptGap)],
  keyMid, 21);
panel(box(colR, 5), 3.5, yTicks35, true,
  [curve('EDMFT', cooEDMFT, C_ED), band('Expt', cooExpt), dots('ExptGap', cooExptGap)],
  keyBotR, 32);
</script>
</body>
</html>
